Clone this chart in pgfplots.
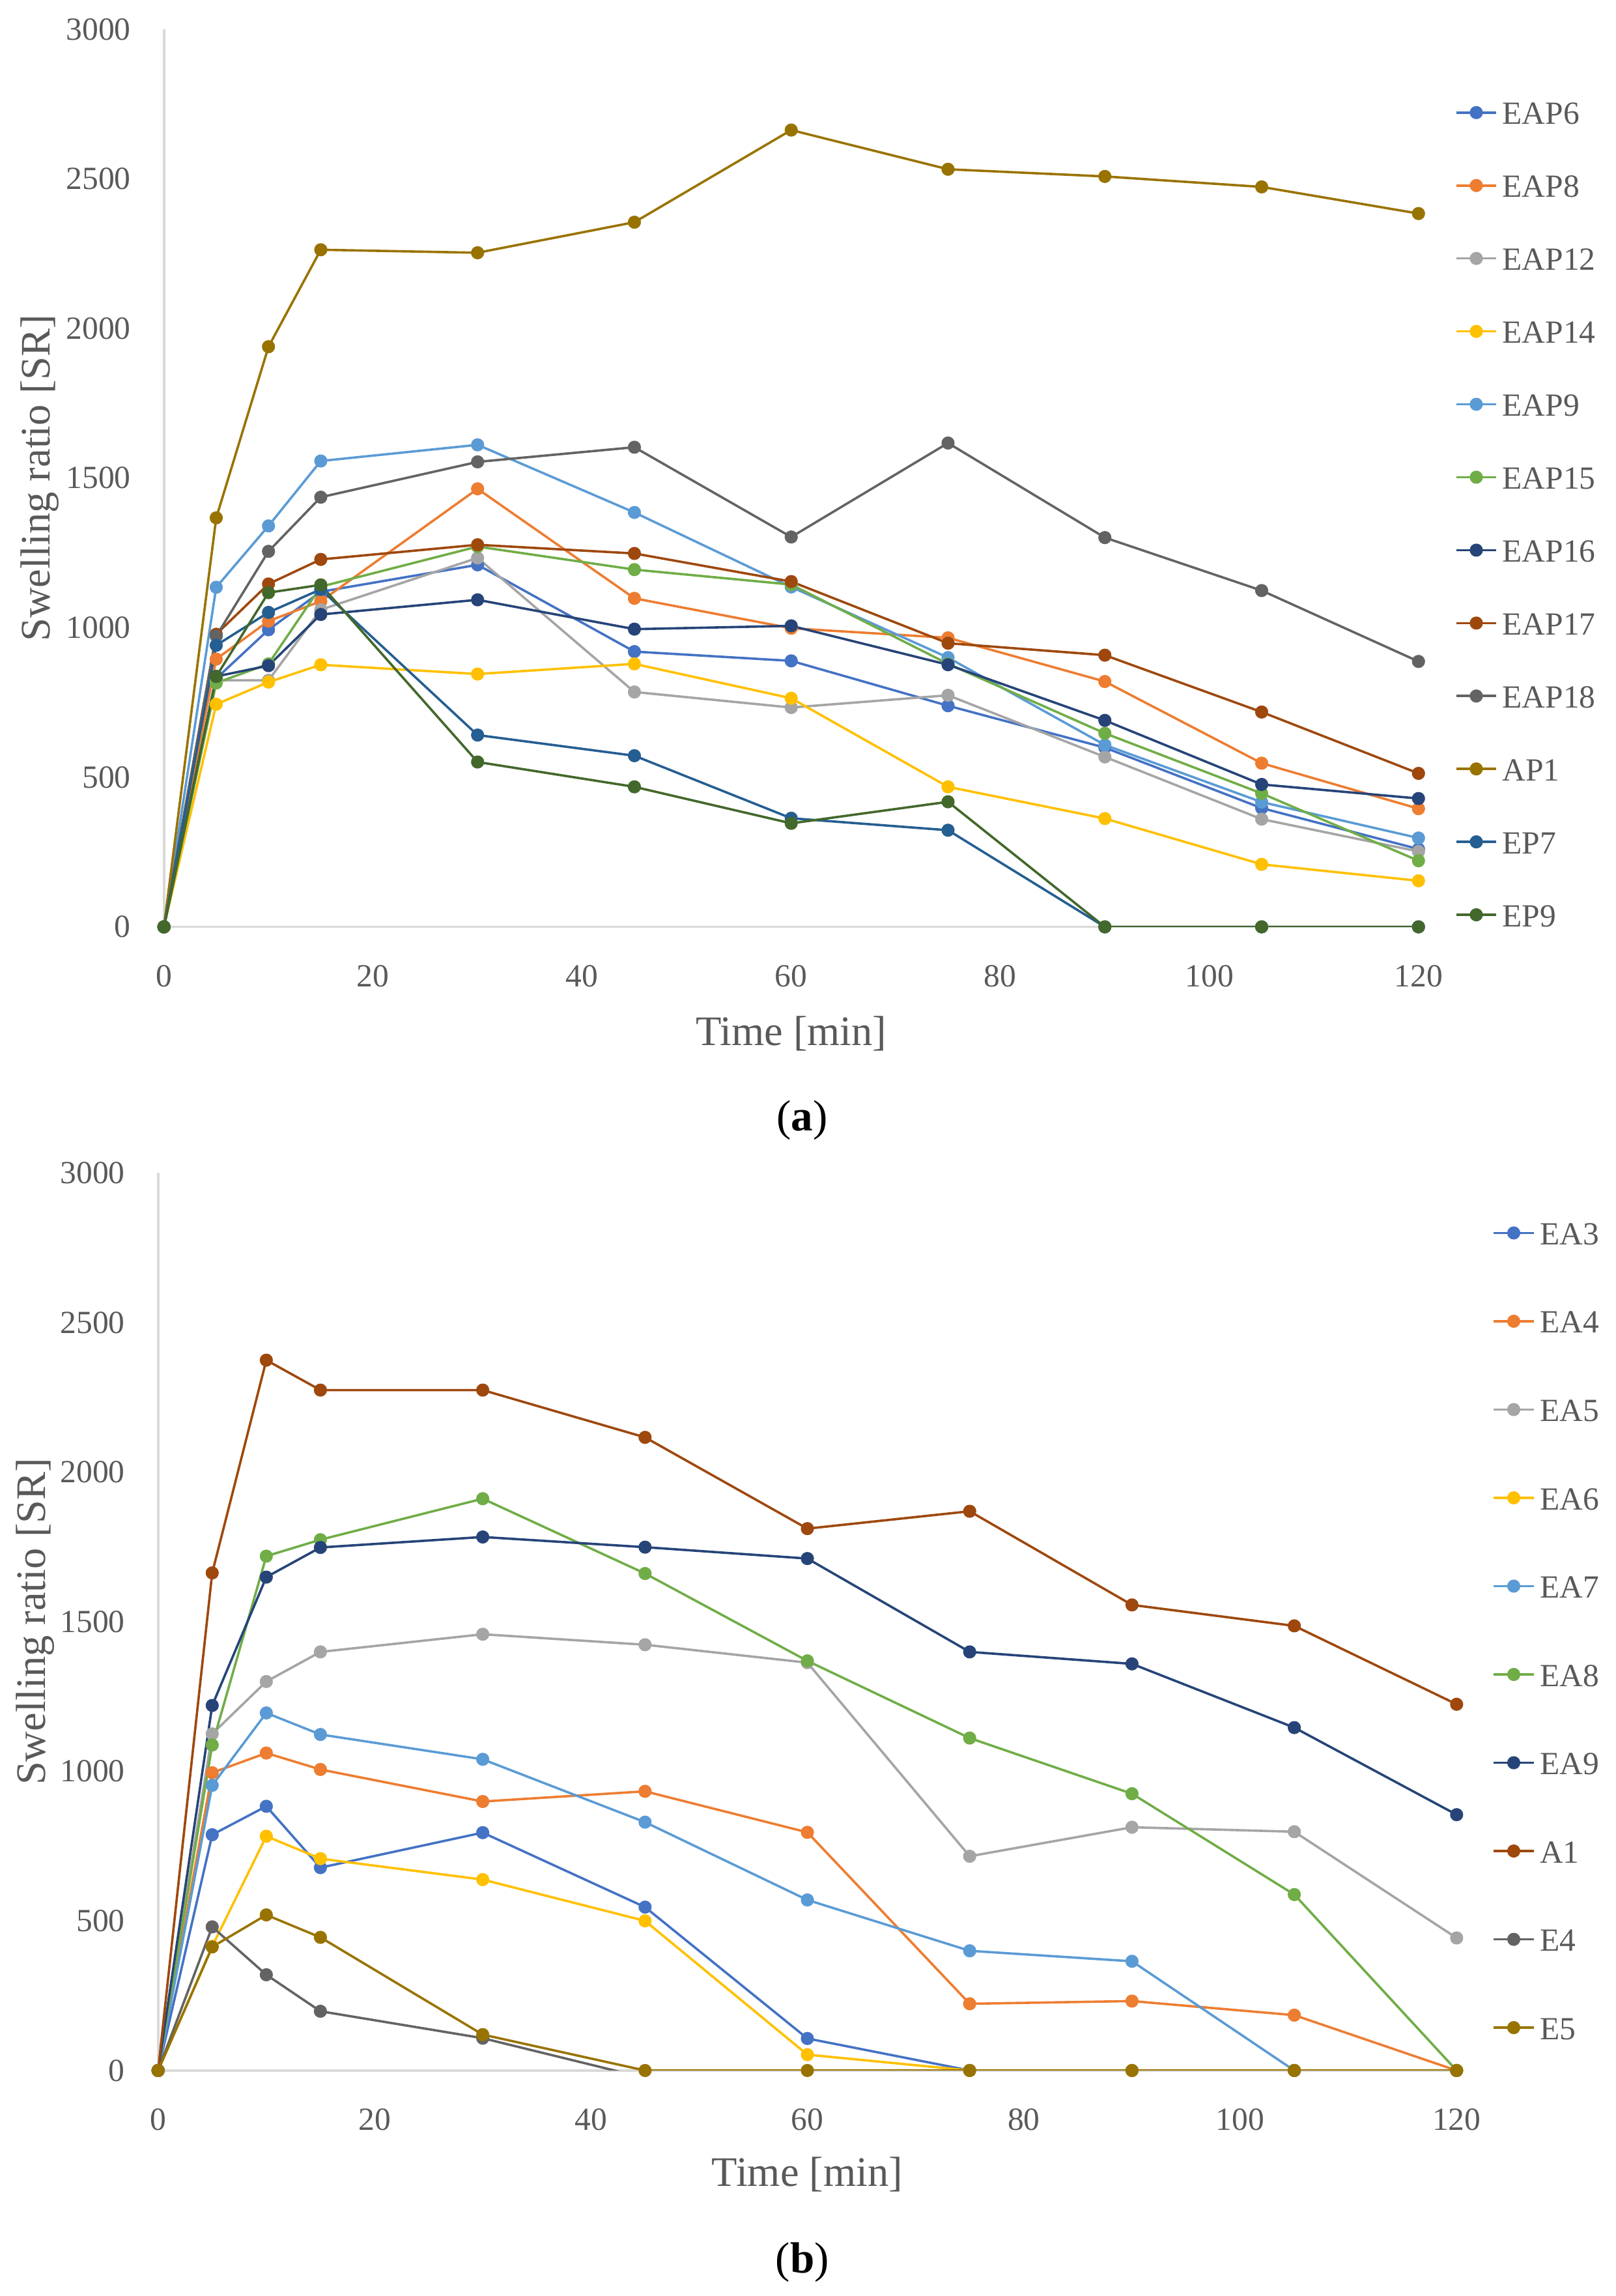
\documentclass[border=0pt]{standalone}
\usepackage{fontspec}
\setmainfont{Liberation Serif}
\usepackage{pgfplots}
\pgfplotsset{compat=1.18}

\definecolor{c1}{HTML}{4472C4}
\definecolor{c2}{HTML}{ED7D31}
\definecolor{c3}{HTML}{A5A5A5}
\definecolor{c4}{HTML}{FFC000}
\definecolor{c5}{HTML}{5B9BD5}
\definecolor{c6}{HTML}{70AD47}
\definecolor{c7}{HTML}{264478}
\definecolor{c8}{HTML}{9E480E}
\definecolor{c9}{HTML}{636363}
\definecolor{c10}{HTML}{997300}
\definecolor{c11}{HTML}{255E91}
\definecolor{c12}{HTML}{43682B}
\definecolor{txtgray}{HTML}{595959}
\definecolor{axisgray}{HTML}{D9D9D9}

\pgfplotsset{
  swell/.style={
    scale only axis,
    height=9.383cm,
    xmin=0, xmax=120, ymin=0, ymax=3000,
    xtick={0,20,...,120},
    ytick={0,500,...,3000},
    axis lines=left,
    axis line style={draw=axisgray, line width=0.7pt, -},
    major tick length=0pt,
    tick label style={font=\fontsize{9.6}{11}\selectfont, text=txtgray},
    /pgf/number format/assume math mode=true,
    /pgf/number format/1000 sep={},
    xticklabel style={yshift=-0.278cm},
    yticklabel style={xshift=-0.224cm},
    label style={font=\fontsize{12.5}{15}\selectfont, text=txtgray},
    xlabel={Time [min]},
    ylabel={Swelling ratio [SR]},
    legend cell align=left,
    legend style={draw=none, fill=none, inner sep=0pt, anchor=north west,
      font=\fontsize{9.6}{11}\selectfont, text=txtgray, column sep=0.05cm,
      nodes={inner sep=0pt, text height=7pt, text depth=0pt}},
    % one mark in the middle of each legend line
    legend image code/.code={\draw[#1, mark indices={2}]
      plot coordinates {(0cm,0cm)(0.21cm,0cm)(0.42cm,0cm)};},
    every axis plot/.append style={line width=0.7pt, mark=*, mark size=1.6pt, line join=round},
  }
}

\begin{document}
\begin{tikzpicture}
\useasboundingbox (0,0) rectangle (16.89,24);

% (a)
\begin{axis}[swell,
  width=13.117cm,
  at={(1.7143cm,14.3112cm)}, anchor=south west,
  xlabel style={at={(axis description cs:0.5,0)}, anchor=center, yshift=-1.117cm},
  ylabel style={at={(axis description cs:0,0.5)}, anchor=center, yshift=1.30cm},
  legend style={at={(1.0286,0.921)}, row sep=14.69pt},
]
\addplot[color=c1] coordinates {(0,0)(5,830)(10,993)(15,1120)(30,1210)(45,920)(60,889)(75,739)(90,599)(105,397)(120,260)};
\addlegendentry{EAP6}
\addplot[color=c2] coordinates {(0,0)(5,895)(10,1022)(15,1088)(30,1464)(45,1098)(60,998)(75,966)(90,820)(105,547)(120,395)};
\addlegendentry{EAP8}
\addplot[color=c3] coordinates {(0,0)(5,824)(10,824)(15,1060)(30,1233)(45,785)(60,733)(75,774)(90,568)(105,360)(120,252)};
\addlegendentry{EAP12}
\addplot[color=c4] coordinates {(0,0)(5,744)(10,818)(15,876)(30,845)(45,879)(60,764)(75,468)(90,362)(105,209)(120,154)};
\addlegendentry{EAP14}
\addplot[color=c5] coordinates {(0,0)(5,1135)(10,1340)(15,1557)(30,1611)(45,1385)(60,1136)(75,900)(90,608)(105,417)(120,297)};
\addlegendentry{EAP9}
\addplot[color=c6] coordinates {(0,0)(5,815)(10,879)(15,1137)(30,1271)(45,1194)(60,1144)(75,879)(90,647)(105,446)(120,221)};
\addlegendentry{EAP15}
\addplot[color=c7] coordinates {(0,0)(5,837)(10,873)(15,1044)(30,1093)(45,995)(60,1006)(75,876)(90,690)(105,476)(120,429)};
\addlegendentry{EAP16}
\addplot[color=c8] coordinates {(0,0)(5,978)(10,1146)(15,1228)(30,1277)(45,1248)(60,1154)(75,948)(90,908)(105,718)(120,513)};
\addlegendentry{EAP17}
\addplot[color=c9] coordinates {(0,0)(5,972)(10,1255)(15,1436)(30,1554)(45,1603)(60,1303)(75,1617)(90,1301)(105,1124)(120,887)};
\addlegendentry{EAP18}
\addplot[color=c10] coordinates {(0,0)(5,1367)(10,1939)(15,2263)(30,2253)(45,2355)(60,2663)(75,2532)(90,2508)(105,2473)(120,2384)};
\addlegendentry{AP1}
\addplot[color=c11] coordinates {(0,0)(5,941)(10,1051)(15,1128)(30,641)(45,572)(60,363)(75,323)(90,0)(105,0)(120,0)};
\addlegendentry{EP7}
\addplot[color=c12] coordinates {(0,0)(5,837)(10,1117)(15,1143)(30,551)(45,468)(60,346)(75,418)(90,0)(105,0)(120,0)};
\addlegendentry{EP9}
\end{axis}

% (b)
\begin{axis}[swell,
  width=13.577cm,
  at={(1.6531cm,2.3571cm)}, anchor=south west,
  xlabel style={at={(axis description cs:0.5,0)}, anchor=center, yshift=-1.087cm},
  ylabel style={at={(axis description cs:0,0.5)}, anchor=center, yshift=1.286cm},
  legend style={at={(1.0271,0.9469)}, row sep=19.26pt},
]
\addplot[color=c1] coordinates {(0,0)(5,788)(10,883)(15,678)(30,795)(45,546)(60,107)(75,0)(90,0)(105,0)(120,0)};
\addlegendentry{EA3}
\addplot[color=c2] coordinates {(0,0)(5,995)(10,1061)(15,1006)(30,899)(45,933)(60,796)(75,223)(90,232)(105,185)(120,0)};
\addlegendentry{EA4}
\addplot[color=c3] coordinates {(0,0)(5,1125)(10,1300)(15,1399)(30,1458)(45,1423)(60,1363)(75,716)(90,813)(105,798)(120,443)};
\addlegendentry{EA5}
\addplot[color=c4] coordinates {(0,0)(5,415)(10,783)(15,708)(30,638)(45,500)(60,53)(75,0)(90,0)(105,0)(120,0)};
\addlegendentry{EA6}
\addplot[color=c5] coordinates {(0,0)(5,953)(10,1195)(15,1123)(30,1040)(45,830)(60,570)(75,400)(90,365)(105,0)(120,0)};
\addlegendentry{EA7}
\addplot[color=c6] coordinates {(0,0)(5,1088)(10,1719)(15,1774)(30,1911)(45,1661)(60,1369)(75,1111)(90,925)(105,588)(120,0)};
\addlegendentry{EA8}
\addplot[color=c7] coordinates {(0,0)(5,1220)(10,1649)(15,1748)(30,1783)(45,1749)(60,1711)(75,1399)(90,1359)(105,1146)(120,855)};
\addlegendentry{EA9}
\addplot[color=c8] coordinates {(0,0)(5,1663)(10,2374)(15,2274)(30,2274)(45,2116)(60,1811)(75,1869)(90,1556)(105,1486)(120,1224)};
\addlegendentry{A1}
\addplot[color=c9, mark indices={1,2,3,4,5}] coordinates {(0,0)(5,480)(10,320)(15,198)(30,108)(45,-25)};
\addlegendentry{E4}
\addplot[color=c10] coordinates {(0,0)(5,413)(10,520)(15,445)(30,120)(45,0)(60,0)(75,0)(90,0)(105,0)(120,0)};
\addlegendentry{E5}
\end{axis}

\node[font=\fontsize{13}{15}\selectfont] at (8.388,12.291) {(\textbf{a})};
\node[font=\fontsize{13}{15}\selectfont] at (8.388,0.352) {(\textbf{b})};
\end{tikzpicture}
\end{document}
